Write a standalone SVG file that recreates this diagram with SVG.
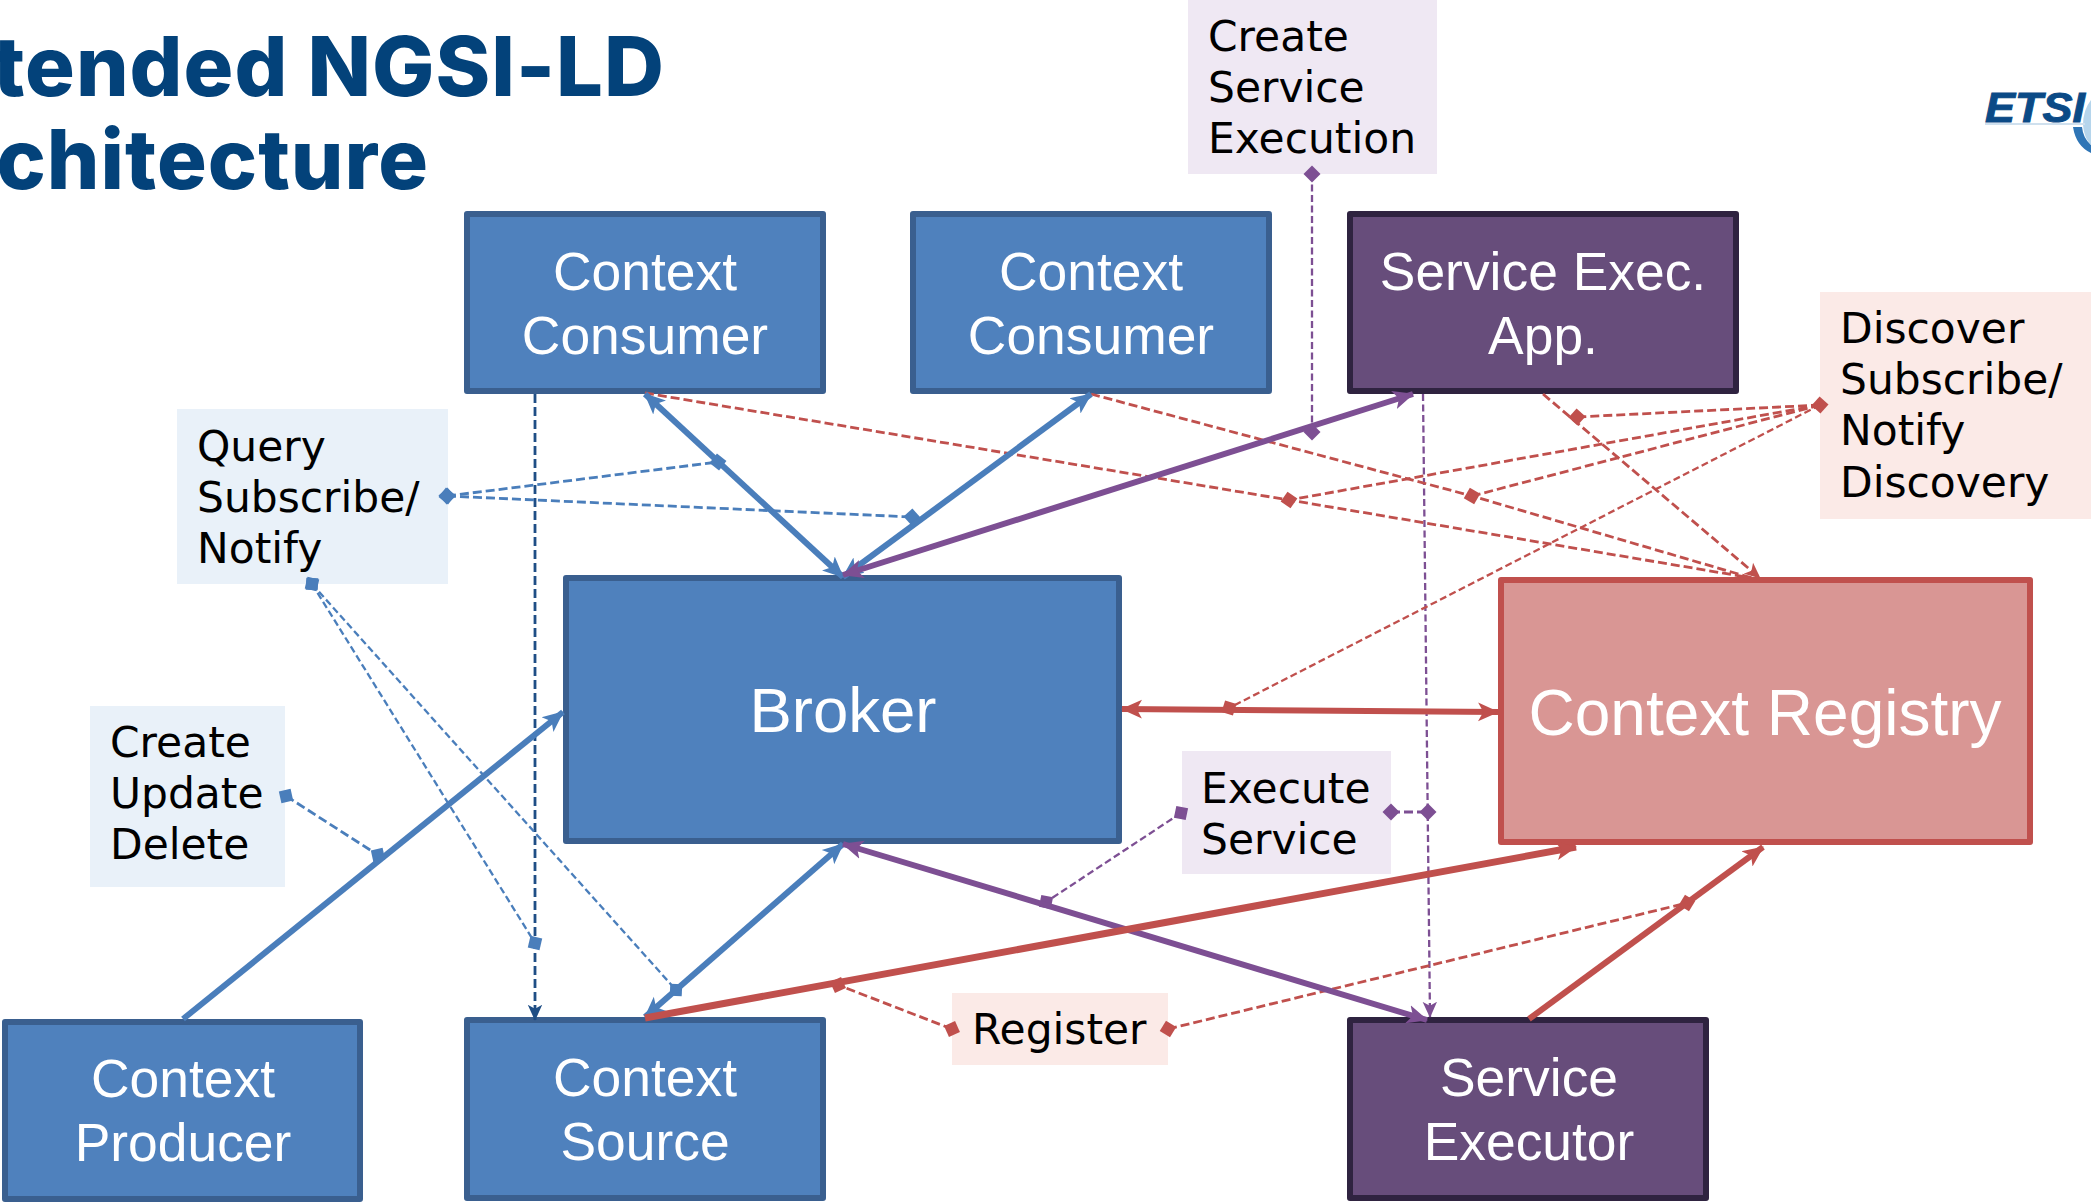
<svg xmlns="http://www.w3.org/2000/svg" width="2091" height="1203" viewBox="0 0 2091 1203">
<style>
.box{stroke-width:6;stroke-linejoin:round}
.blue{fill:#4f81bd;stroke:#3a5f8f}
.pur{fill:#674d7b;stroke:#2f2340}
.red{fill:#d99694;stroke:#c0504d}
.bt{font-family:"Liberation Sans",Arial,sans-serif;font-size:53.4px;fill:#fff;text-anchor:middle}
.lt{font-family:"DejaVu Sans",Verdana,sans-serif;font-size:42.4px;fill:#000}
.title{font-family:"Inter","Liberation Sans",sans-serif;font-weight:800;font-size:83px;fill:#03427a;text-anchor:end;letter-spacing:1px}
.t{fill:none;stroke-width:6}
.d{fill:none;stroke-width:2.8;stroke-dasharray:9 4}
.s{stroke-width:2.3;stroke-dasharray:7 3.5}
.cb{stroke:#4a7ebb}
.cp{stroke:#7d4f93}
.cr{stroke:#c0504d}
.cn{stroke:#1f4e85}
.mb{fill:#4a7ebb}
.mp{fill:#7d4f93}
.mr{fill:#c0504d}
</style>
<defs>
<marker id="a" viewBox="0 0 20 20" refX="19" refY="10" markerWidth="21" markerHeight="21" markerUnits="userSpaceOnUse" orient="auto-start-reverse"><path d="M0 1L20 10L0 19L5 10Z" fill="context-stroke"/></marker>
<marker id="ad" viewBox="0 0 20 20" refX="19" refY="10" markerWidth="16" markerHeight="16" markerUnits="userSpaceOnUse" orient="auto-start-reverse"><path d="M0 1L20 10L0 19L5 10Z" fill="context-stroke"/></marker>
<marker id="db" viewBox="-9 -9 18 18" markerWidth="18" markerHeight="18" markerUnits="userSpaceOnUse" orient="auto"><path class="mb" d="M0 -8.5L8.5 0L0 8.5L-8.5 0Z"/></marker>
<marker id="dp" viewBox="-9 -9 18 18" markerWidth="18" markerHeight="18" markerUnits="userSpaceOnUse" orient="auto"><path class="mp" d="M0 -8.5L8.5 0L0 8.5L-8.5 0Z"/></marker>
<marker id="dr" viewBox="-9 -9 18 18" markerWidth="18" markerHeight="18" markerUnits="userSpaceOnUse" orient="auto"><path class="mr" d="M0 -8.5L8.5 0L0 8.5L-8.5 0Z"/></marker>
</defs>
<g id="title">
<text class="title" x="665" y="96">tended NGSI-LD</text>
<text class="title" x="429" y="189">chitecture</text>
</g>
<g id="logo">
<path d="M2073 127Q2076 146 2091 153L2091 145Q2083 138 2082 127Z" fill="#2e75b6"/>
<path d="M2091 100Q2083 110 2083 125Q2084 138 2091 145Z" fill="#b5d5ec"/>
<rect x="1985" y="123" width="100" height="2" fill="#cfe0ee"/>
<text x="1985" y="122" font-family="'Liberation Sans',sans-serif" font-weight="700" font-style="italic" font-size="43" fill="#0b4a86" stroke="#0b4a86" stroke-width="1" textLength="100" lengthAdjust="spacingAndGlyphs">ETSI</text>
</g>
<g id="label-query"><rect x="177" y="409" width="271" height="175" fill="#e9f1f9"/><text class="lt" x="197" y="461">Query</text><text class="lt" x="197" y="512">Subscribe/</text><text class="lt" x="197" y="563">Notify</text></g>
<g id="label-cud"><rect x="90" y="706" width="195" height="181" fill="#e9f1f9"/><text class="lt" x="110" y="757">Create</text><text class="lt" x="110" y="808">Update</text><text class="lt" x="110" y="859">Delete</text></g>
<g id="label-cse"><rect x="1188" y="0" width="249" height="174" fill="#efe8f3"/><text class="lt" x="1208" y="51">Create</text><text class="lt" x="1208" y="102">Service</text><text class="lt" x="1208" y="153">Execution</text></g>
<g id="label-discover"><rect x="1820" y="292" width="271" height="227" fill="#fbeae7"/><text class="lt" x="1840" y="343">Discover</text><text class="lt" x="1840" y="394">Subscribe/</text><text class="lt" x="1840" y="445">Notify</text><text class="lt" x="1840" y="497">Discovery</text></g>
<g id="label-exec"><rect x="1182" y="751" width="209" height="123" fill="#efe8f3"/><text class="lt" x="1201" y="803">Execute</text><text class="lt" x="1201" y="854">Service</text></g>
<g id="label-register"><rect x="952" y="993" width="216" height="72" fill="#fbeae7"/><text class="lt" x="972" y="1044">Register</text></g>

<g id="node-cc1"><rect class="box blue" x="467" y="214" width="356" height="177"/><text class="bt" x="645" y="290">Context</text><text class="bt" x="645" y="354">Consumer</text></g>
<g id="node-cc2"><rect class="box blue" x="913" y="214" width="356" height="177"/><text class="bt" x="1091" y="290">Context</text><text class="bt" x="1091" y="354">Consumer</text></g>
<g id="node-sea"><rect class="box pur" x="1350" y="214" width="386" height="177"/><text class="bt" x="1543" y="290">Service Exec.</text><text class="bt" x="1543" y="354">App.</text></g>
<g id="node-broker"><rect class="box blue" x="566" y="578" width="553" height="263"/><text class="bt" x="843" y="732" style="font-size:63.5px">Broker</text></g>
<g id="node-registry"><rect class="box red" x="1501" y="580" width="529" height="262"/><text class="bt" x="1765" y="735" style="font-size:64px">Context Registry</text></g>
<g id="node-producer"><rect class="box blue" x="5" y="1022" width="355" height="177"/><text class="bt" x="183" y="1097">Context</text><text class="bt" x="183" y="1161">Producer</text></g>
<g id="node-source"><rect class="box blue" x="467" y="1020" width="356" height="178"/><text class="bt" x="645" y="1096">Context</text><text class="bt" x="645" y="1160">Source</text></g>
<g id="node-executor"><rect class="box pur" x="1350" y="1020" width="356" height="178"/><text class="bt" x="1529" y="1096">Service</text><text class="bt" x="1529" y="1160">Executor</text></g>

<g id="connectors">
<path class="d cn" d="M535 394V1020" marker-end="url(#ad)"/>
<path class="d cb" d="M447 496L718 462" marker-start="url(#db)" marker-end="url(#db)"/>
<path class="d cb" d="M447 496L912 517" marker-start="url(#db)" marker-end="url(#db)"/>
<path class="d s cb" d="M312 584L535 943" marker-start="url(#db)" marker-end="url(#db)"/>
<path class="d s cb" d="M312 584L676 990" marker-start="url(#db)" marker-end="url(#db)"/>
<path class="d cb" d="M286 796L378 855" marker-start="url(#db)" marker-end="url(#db)"/>
<path class="d s cp" d="M1312 174V432" marker-start="url(#dp)" marker-end="url(#dp)"/>
<path class="d s cp" d="M1423 394L1430 1017" marker-end="url(#ad)"/>
<path class="d cp" d="M1391 812H1428" marker-start="url(#dp)" marker-end="url(#dp)"/>
<path class="d s cp" d="M1181 813L1046 902" marker-start="url(#dp)" marker-end="url(#dp)"/>
<path class="d cr" d="M645 393L1289 500L1752 578"/>
<path class="d cr" d="M1091 394L1472 496L1752 578"/>
<path class="d cr" d="M1543 394L1760 578" marker-end="url(#ad)"/>
<path class="d cr" d="M1820 405L1577 417" marker-start="url(#dr)" marker-end="url(#dr)"/>
<path class="d cr" d="M1820 405L1289 500" marker-end="url(#dr)"/>
<path class="d cr" d="M1820 405L1472 496" marker-end="url(#dr)"/>
<path class="d s cr" d="M1820 405L1229 708" marker-end="url(#dr)"/>
<path class="d cr" d="M952 1029L838 985" marker-start="url(#dr)" marker-end="url(#dr)"/>
<path class="d cr" d="M1168 1029L1687 903" marker-start="url(#dr)" marker-end="url(#dr)"/>
<path class="t cb" d="M645 394L843 577" marker-start="url(#a)" marker-end="url(#a)"/>
<path class="t cb" d="M1091 394L843 577" marker-start="url(#a)" marker-end="url(#a)"/>
<path class="t cb" d="M183 1019L563 712" marker-end="url(#a)"/>
<path class="t cb" d="M645 1017L843 844" marker-start="url(#a)" marker-end="url(#a)"/>
<path class="t cp" d="M1413 394L843 575" marker-start="url(#a)" marker-end="url(#a)"/>
<path class="t cp" d="M843 844L1427 1020" marker-start="url(#a)" marker-end="url(#a)"/>
<path class="t cr" style="stroke-width:7" d="M645 1018L1576 847" marker-end="url(#a)"/>
<path class="t cr" d="M1529 1019L1763 847" marker-end="url(#a)"/>
<path class="t cr" d="M1122 709L1498 712" marker-start="url(#a)" marker-end="url(#a)"/>
</g>
</svg>
